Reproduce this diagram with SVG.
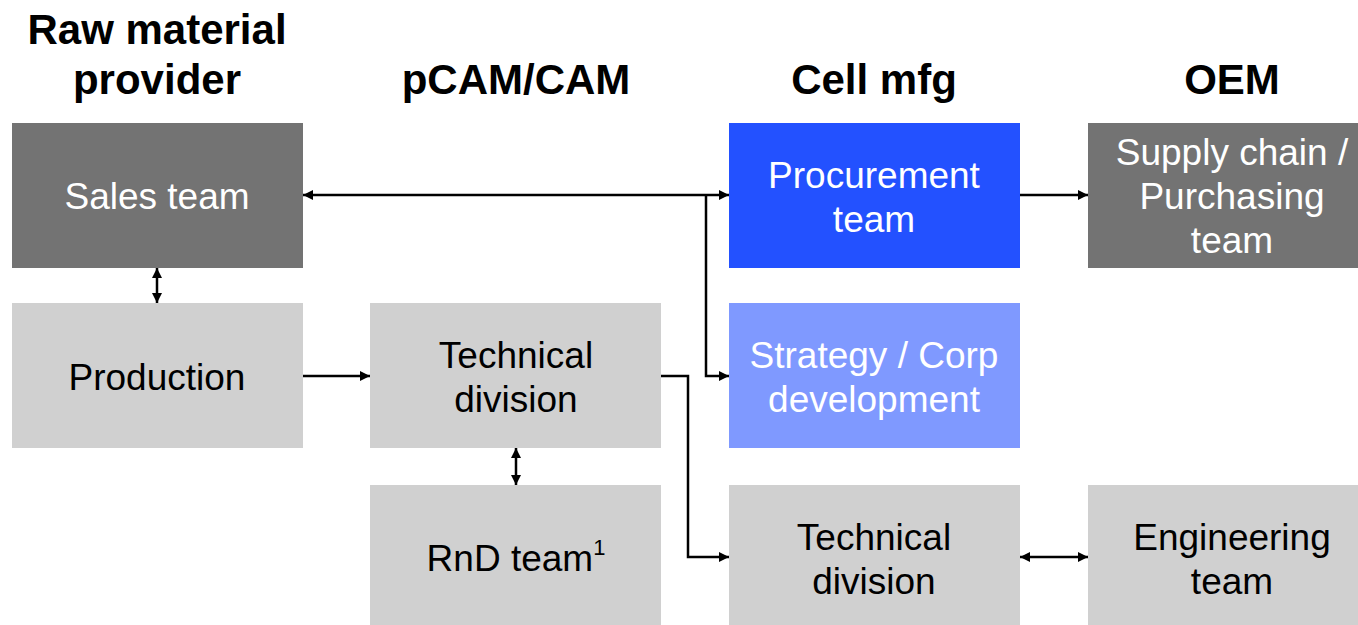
<svg xmlns="http://www.w3.org/2000/svg" width="1358" height="625" viewBox="0 0 1358 625">
<style>
.hdr{font-family:"Liberation Sans",Arial,sans-serif;font-weight:bold;font-size:42px;fill:#000;text-anchor:middle}
.t{font-family:"Liberation Sans",Arial,sans-serif;font-size:37px;text-anchor:middle;dominant-baseline:central}
.w{fill:#fff}
.k{fill:#000}
.dark{fill:#737373}
.light{fill:#d0d0d0}
.blue{fill:#2351ff}
.lblue{fill:#7f99ff}
.c{stroke:#000;stroke-width:2.5;fill:none}
</style>
<defs>
<marker id="ah" viewBox="0 0 10 10" refX="10" refY="5" markerWidth="4" markerHeight="4" orient="auto-start-reverse" markerUnits="strokeWidth">
<path d="M0,0 L10,5 L0,10 Z" fill="#000"/>
</marker>
</defs>
<g id="headers">
<text class="hdr" x="157" y="44">Raw material</text>
<text class="hdr" x="157" y="94">provider</text>
<text class="hdr" x="516" y="94">pCAM/CAM</text>
<text class="hdr" x="874" y="94">Cell mfg</text>
<text class="hdr" x="1232" y="94">OEM</text>
</g>
<g id="sales"><rect class="dark" x="12" y="123" width="291" height="145"/><text class="t w" x="157" y="196">Sales team</text></g>
<g id="production"><rect class="light" x="12" y="303" width="291" height="145"/><text class="t k" x="157" y="377">Production</text></g>
<g id="tech-pcam"><rect class="light" x="370" y="303" width="291" height="145"/><text class="t k" x="516" y="355">Technical</text><text class="t k" x="516" y="399">division</text></g>
<g id="rnd"><rect class="light" x="370" y="485" width="291" height="140"/><text class="t k" x="516" y="558">RnD team<tspan font-size="22" dy="-11">1</tspan></text></g>
<g id="procurement"><rect class="blue" x="729" y="123" width="291" height="145"/><text class="t w" x="874" y="175">Procurement</text><text class="t w" x="874" y="219">team</text></g>
<g id="strategy"><rect class="lblue" x="729" y="303" width="291" height="145"/><text class="t w" x="874" y="355">Strategy / Corp</text><text class="t w" x="874" y="399">development</text></g>
<g id="tech-cell"><rect class="light" x="729" y="485" width="291" height="140"/><text class="t k" x="874" y="537">Technical</text><text class="t k" x="874" y="581">division</text></g>
<g id="supply"><rect class="dark" x="1088" y="123" width="291" height="145"/><text class="t w" x="1232" y="152">Supply chain /</text><text class="t w" x="1232" y="196">Purchasing</text><text class="t w" x="1232" y="240">team</text></g>
<g id="engineering"><rect class="light" x="1088" y="485" width="291" height="140"/><text class="t k" x="1232" y="537">Engineering</text><text class="t k" x="1232" y="581">team</text></g>
<g id="connectors">
<line class="c" x1="303" y1="195" x2="729" y2="195" marker-start="url(#ah)" marker-end="url(#ah)"/>
<polyline class="c" points="706,195 706,376 729,376" marker-end="url(#ah)"/>
<line class="c" x1="1020" y1="195" x2="1088" y2="195" marker-end="url(#ah)"/>
<line class="c" x1="157" y1="268" x2="157" y2="303" marker-start="url(#ah)" marker-end="url(#ah)"/>
<line class="c" x1="303" y1="376" x2="370" y2="376" marker-end="url(#ah)"/>
<polyline class="c" points="661,376 688,376 688,557 729,557" marker-end="url(#ah)"/>
<line class="c" x1="516" y1="448" x2="516" y2="485" marker-start="url(#ah)" marker-end="url(#ah)"/>
<line class="c" x1="1020" y1="557" x2="1088" y2="557" marker-start="url(#ah)" marker-end="url(#ah)"/>
</g>
</svg>
